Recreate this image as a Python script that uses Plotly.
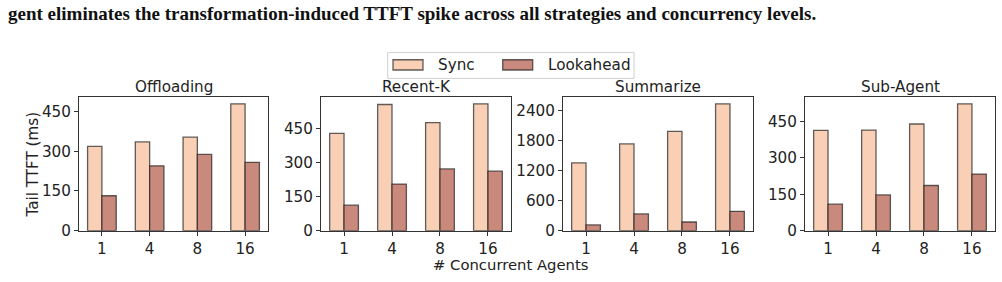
import plotly.graph_objects as go

W, H = 1002, 282

categories = ["1", "4", "8", "16"]
panel_titles = ["Offloading", "Recent-K", "Summarize", "Sub-Agent"]
sync_values = [
    [318, 335, 353, 479],
    [430, 558, 478, 561],
    [1355, 1734, 1986, 2535],
    [413, 414, 439, 522],
]
lookahead_values = [
    [132, 245, 288, 258],
    [113, 206, 273, 263],
    [116, 335, 174, 387],
    [109, 147, 186, 233],
]
y_tickvals = [
    [0, 150, 300, 450],
    [0, 150, 300, 450],
    [0, 600, 1200, 1800, 2400],
    [0, 150, 300, 450],
]
series_names = ["Sync", "Lookahead"]
colors = ["#F9D0B6", "#C98A7D"]
edge = "rgba(30,30,30,0.7)"

caption = "gent eliminates the transformation-induced TTFT spike across all strategies and concurrency levels."

# pixel layout
x_px = [(79, 268), (321, 511), (563, 753), (805, 995)]
y_top, y_bot = 100.7, 238.3


def px(x):
    return x / W


def py(y):
    return 1 - y / H


FONT = "DejaVu Sans"
FS = 15.2
fig = go.Figure()

for i in range(4):
    xa = "x" if i == 0 else f"x{i+1}"
    ya = "y" if i == 0 else f"y{i+1}"
    for s, vals in enumerate([sync_values[i], lookahead_values[i]]):
        fig.add_trace(go.Bar(
            x=categories, y=vals, name=series_names[s],
            marker=dict(color=colors[s], line=dict(color=edge, width=1.3)),
            xaxis=xa, yaxis=ya, showlegend=False,
            offsetgroup=str(s),
        ))
    ymax = max(sync_values[i] + lookahead_values[i]) * 1.05
    axkey_x = "xaxis" if i == 0 else f"xaxis{i+1}"
    axkey_y = "yaxis" if i == 0 else f"yaxis{i+1}"
    fig.layout[axkey_x] = dict(
        domain=[px(x_px[i][0]), px(x_px[i][1])], anchor=ya,
        type="category", range=[-0.48, 3.48],
        showline=True, mirror=True, linecolor="#333", linewidth=1,
        ticks="outside", ticklen=4, tickcolor="#333",
        tickfont=dict(family=FONT, size=FS, color="#222"),
        ticklabelstandoff=0,
        showgrid=False, zeroline=False,
    )
    fig.layout[axkey_y] = dict(
        domain=[py(y_bot), py(y_top)], anchor=xa,
        range=[0, ymax], tickvals=y_tickvals[i],
        showline=True, mirror=True, linecolor="#333", linewidth=1,
        ticks="outside", ticklen=4, tickcolor="#333",
        tickfont=dict(family=FONT, size=FS, color="#222"),
        showgrid=False, zeroline=False,
    )
    fig.add_annotation(
        text=panel_titles[i], xref="paper", yref="paper",
        x=px((x_px[i][0] + x_px[i][1]) / 2), y=py(90),
        xanchor="center", yanchor="middle", showarrow=False,
        font=dict(family=FONT, size=FS, color="#222"),
    )

# axis titles
fig.add_annotation(text="Tail TTFT (ms)", xref="paper", yref="paper",
                   x=px(33), y=py(170), textangle=-90, showarrow=False,
                   xanchor="center", yanchor="middle",
                   font=dict(family=FONT, size=FS, color="#222"))
fig.add_annotation(text="# Concurrent Agents", xref="paper", yref="paper",
                   x=px(510.5), y=py(273), showarrow=False,
                   xanchor="center", yanchor="middle",
                   font=dict(family=FONT, size=14.8, color="#222"))

# caption
fig.add_annotation(text="<b>" + caption + "</b>", xref="paper", yref="paper",
                   x=px(6), y=py(14), showarrow=False,
                   xanchor="left", yanchor="middle",
                   font=dict(family="Liberation Serif", size=19, color="#111"))

# legend (manual)
shapes = [dict(type="rect", xref="paper", yref="paper",
               x0=px(387.7), x1=px(634), y0=py(81), y1=py(54.3),
               line=dict(color="#d0d0d0", width=1), fillcolor="white")]
leg_items = [(393, 435.7), (502.7, 545.7)]
for s, (x0, tx) in enumerate(leg_items):
    shapes.append(dict(type="rect", xref="paper", yref="paper",
                       x0=px(x0), x1=px(x0 + 30), y0=py(72.3), y1=py(61.7),
                       line=dict(color=edge, width=1.3), fillcolor=colors[s]))
    fig.add_annotation(text=series_names[s], xref="paper", yref="paper",
                       x=px(tx), y=py(67), showarrow=False,
                       xanchor="left", yanchor="middle",
                       font=dict(family=FONT, size=FS, color="#222"))
fig.update_layout(shapes=shapes)

fig.update_layout(
    width=W, height=H,
    margin=dict(l=0, r=0, t=0, b=0),
    paper_bgcolor="white", plot_bgcolor="white",
    barmode="group", bargap=0.4, bargroupgap=0,
    showlegend=False,
)

fig.write_html("out.html")
